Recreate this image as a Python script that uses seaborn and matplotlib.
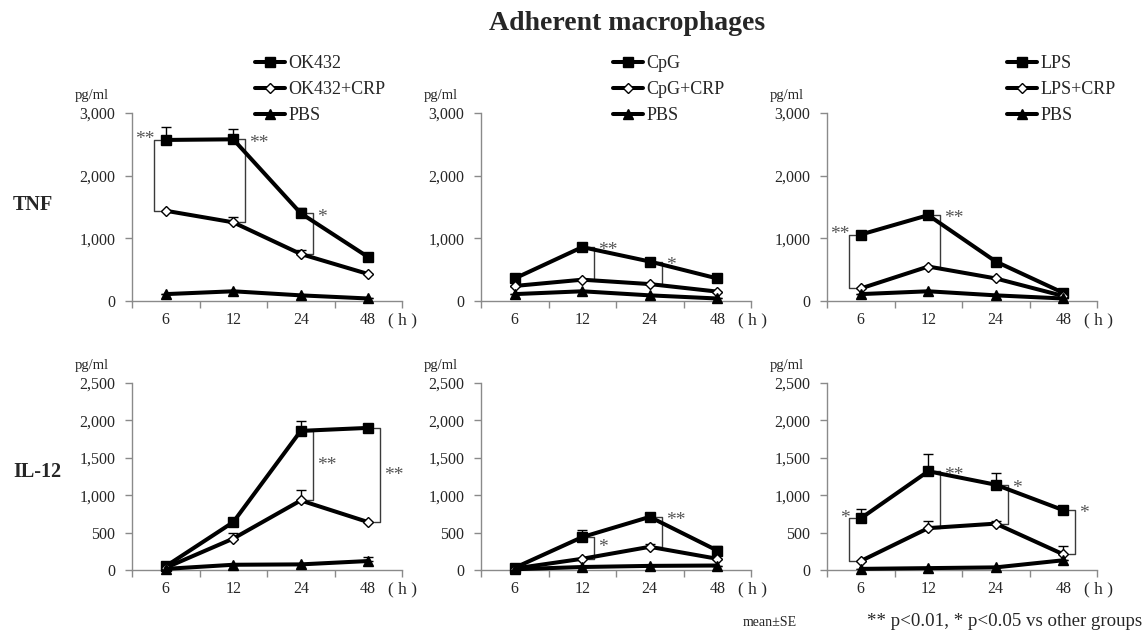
import numpy as np
import pandas as pd
import matplotlib
matplotlib.use("Agg")
import matplotlib.pyplot as plt
import seaborn as sns
from matplotlib.ticker import FixedLocator, FuncFormatter

sns.set_style("white")
plt.rcParams["font.family"] = ["Liberation Serif", "DejaVu Serif"]

# ---- data (pg/ml, mean and SE) ----
times = ["6", "12", "24", "48"]

# TNF
tnf_ok432 = [2570, 2580, 1400, 700]
tnf_ok432_se = [210, 160, 80, 0]
tnf_ok432_crp = [1440, 1255, 750, 430]
tnf_ok432_crp_se = [0, 90, 60, 0]
tnf_cpg = [360, 860, 630, 360]
tnf_cpg_se = [0, 0, 0, 0]
tnf_cpg_crp = [240, 340, 270, 150]
tnf_cpg_crp_se = [0, 0, 0, 0]
tnf_lps = [1060, 1370, 630, 130]
tnf_lps_se = [0, 0, 0, 0]
tnf_lps_crp = [200, 550, 360, 80]
tnf_lps_crp_se = [0, 0, 0, 0]
tnf_pbs = [110, 155, 90, 40]
tnf_pbs_se = [0, 0, 0, 0]

# IL-12
il12_ok432 = [50, 640, 1860, 1900]
il12_ok432_se = [0, 0, 130, 0]
il12_ok432_crp = [30, 420, 930, 640]
il12_ok432_crp_se = [0, 70, 140, 0]
il12_ok432_pbs = [15, 70, 75, 120]
il12_ok432_pbs_se = [0, 0, 0, 55]
il12_cpg = [30, 440, 710, 260]
il12_cpg_se = [0, 100, 30, 65]
il12_cpg_crp = [20, 150, 310, 150]
il12_cpg_crp_se = [0, 0, 40, 0]
il12_cpg_pbs = [10, 40, 55, 60]
il12_cpg_pbs_se = [0, 0, 0, 0]
il12_lps = [690, 1320, 1140, 800]
il12_lps_se = [120, 230, 160, 0]
il12_lps_crp = [120, 560, 620, 210]
il12_lps_crp_se = [0, 90, 40, 110]
il12_lps_pbs = [15, 25, 35, 130]
il12_lps_pbs_se = [0, 0, 0, 0]

stimuli = ["OK432", "CpG", "LPS"]

# significance brackets: (time index, side, stars, label placement)
tnf_sig = [
    [(0, -1, "**", "top"), (1, 1, "**", "top"), (2, 1, "*", "top")],
    [(1, 1, "**", "top"), (2, 1, "*", "top")],
    [(0, -1, "**", "top"), (1, 1, "**", "top")],
]
il12_sig = [
    [(2, 1, "**", "mid"), (3, 1, "**", "mid")],
    [(1, 1, "*", "mid"), (2, 1, "**", "top")],
    [(0, -1, "*", "top"), (1, 1, "**", "top"), (2, 1, "*", "top"), (3, 1, "*", "top")],
]

tnf_groups = [
    (tnf_ok432, tnf_ok432_se, tnf_ok432_crp, tnf_ok432_crp_se, tnf_pbs, tnf_pbs_se),
    (tnf_cpg, tnf_cpg_se, tnf_cpg_crp, tnf_cpg_crp_se, tnf_pbs, tnf_pbs_se),
    (tnf_lps, tnf_lps_se, tnf_lps_crp, tnf_lps_crp_se, tnf_pbs, tnf_pbs_se),
]
il12_groups = [
    (il12_ok432, il12_ok432_se, il12_ok432_crp, il12_ok432_crp_se, il12_ok432_pbs, il12_ok432_pbs_se),
    (il12_cpg, il12_cpg_se, il12_cpg_crp, il12_cpg_crp_se, il12_cpg_pbs, il12_cpg_pbs_se),
    (il12_lps, il12_lps_se, il12_lps_crp, il12_lps_crp_se, il12_lps_pbs, il12_lps_pbs_se),
]

# ---- layout ----
W, H = 1146, 630
fig = plt.figure(figsize=(W / 100, H / 100), dpi=100)

col_left = [132, 481, 827]
col_width = 270
row_geom = {"tnf": (301, 188), "il12": (570, 187)}

GREY = "#8a8a8a"
STAR = "#555555"
thousands = FuncFormatter(lambda v, p: f"{int(v):,}")


def make_axes(col, row):
    y0, h = row_geom[row]
    return fig.add_axes([col_left[col] / W, 1 - y0 / H, col_width / W, h / H])


def draw_panel(ax, name, group, ymax, ystep, sig, legend_x=None):
    stim, stim_se, crp, crp_se, pbs, pbs_se = group
    series = [
        (name, stim, stim_se, "s", "black", 6.5),
        (name + "+CRP", crp, crp_se, "D", "white", 5.0),
        ("PBS", pbs, pbs_se, "^", "black", 7.0),
    ]
    for label, vals, se, marker, face, ms in series:
        df = pd.DataFrame({"time": times, "value": vals})
        ax.errorbar(times, vals, yerr=[np.zeros(len(se)), se], fmt="none",
                    ecolor="black", elinewidth=1, capsize=3.5, capthick=1,
                    zorder=2, clip_on=False)
        sns.lineplot(data=df, x="time", y="value", ax=ax, color="black",
                     linewidth=2.9, marker=marker, markersize=ms,
                     markerfacecolor=face, markeredgecolor="black",
                     markeredgewidth=1.0, label=label, legend=False,
                     sort=False, zorder=3, clip_on=False)

    # significance brackets between stimulus and stimulus+CRP
    arm = 0.10
    for i, side, stars, where in sig:
        top, bot = stim[i], crp[i]
        xb = i + 0.18 * side
        xa = xb - arm * side
        ax.plot([xa, xb, xb, xa], [top, top, bot, bot], color="#3a3a3a",
                lw=1.0, zorder=1, clip_on=False)
        if side < 0:
            ax.text(xb + 0.02, top, stars, ha="right", va="center",
                    fontsize=14, color=STAR)
        else:
            ly = top - 0.02 * ymax if where == "top" else (top + bot) / 2
            ax.text(xb + 0.06, ly, stars, ha="left", va="center",
                    fontsize=14, color=STAR)

    ax.set_xlim(-0.5, 3.5)
    ax.set_ylim(0, ymax)
    ax.set_xticks(range(len(times)))
    ax.set_xticklabels(times)
    ax.xaxis.set_minor_locator(FixedLocator(np.arange(-0.5, len(times), 1.0)))
    ax.set_yticks(np.arange(0, ymax + 1, ystep))
    ax.yaxis.set_major_formatter(thousands)
    ax.tick_params(axis="x", which="major", length=0, pad=8, labelsize=11.5)
    ax.tick_params(axis="x", which="minor", length=5, width=1, color=GREY,
                   direction="out", bottom=True)
    ax.tick_params(axis="y", length=5, width=1, color=GREY, direction="out",
                   left=True, pad=7, labelsize=11.5)
    for s in ("top", "right"):
        ax.spines[s].set_visible(False)
    for s in ("left", "bottom"):
        ax.spines[s].set_color(GREY)
        ax.spines[s].set_linewidth(1.0)
    ax.set_xlabel("")
    ax.set_ylabel("")
    ax.grid(False)

    ax.text(-0.148, 1.0 + 18 / 188, "pg/ml", transform=ax.transAxes,
            ha="center", va="center", fontsize=10.5)
    ax.text(0.95, -0.103, "( h )", transform=ax.transAxes, ha="left",
            va="center", fontsize=12.5)

    if legend_x is not None:
        handles, labels = ax.get_legend_handles_labels()
        ax.legend(handles[:3], labels[:3], loc="upper left",
                  bbox_to_anchor=(legend_x / W, 1 - 55 / H),
                  bbox_transform=fig.transFigure, frameon=False,
                  fontsize=13, handlelength=1.65, handletextpad=0.2,
                  labelspacing=0.5, borderpad=0, borderaxespad=0)


legend_left = [255, 613, 1007]
for c in range(3):
    ax = make_axes(c, "tnf")
    draw_panel(ax, stimuli[c], tnf_groups[c], 3000, 1000, tnf_sig[c], legend_left[c])
    ax = make_axes(c, "il12")
    draw_panel(ax, stimuli[c], il12_groups[c], 2500, 500, il12_sig[c])

fig.text(627 / W, 1 - 24 / H, "Adherent macrophages", ha="center", va="center",
         fontsize=20, fontweight="bold")
fig.text(13 / W, 1 - 205 / H, "TNF", ha="left", va="center", fontsize=14.5,
         fontweight="bold")
fig.text(13 / W, 1 - 472 / H, "IL-12", ha="left", va="center", fontsize=14.5,
         fontweight="bold")
fig.text(743 / W, 1 - 622 / H, "mean±SE", ha="left", va="center", fontsize=10)
fig.text(867 / W, 1 - 622 / H, "** p<0.01, * p<0.05 vs other groups",
         ha="left", va="center", fontsize=13.6)

fig.savefig("out.png", dpi=100)
